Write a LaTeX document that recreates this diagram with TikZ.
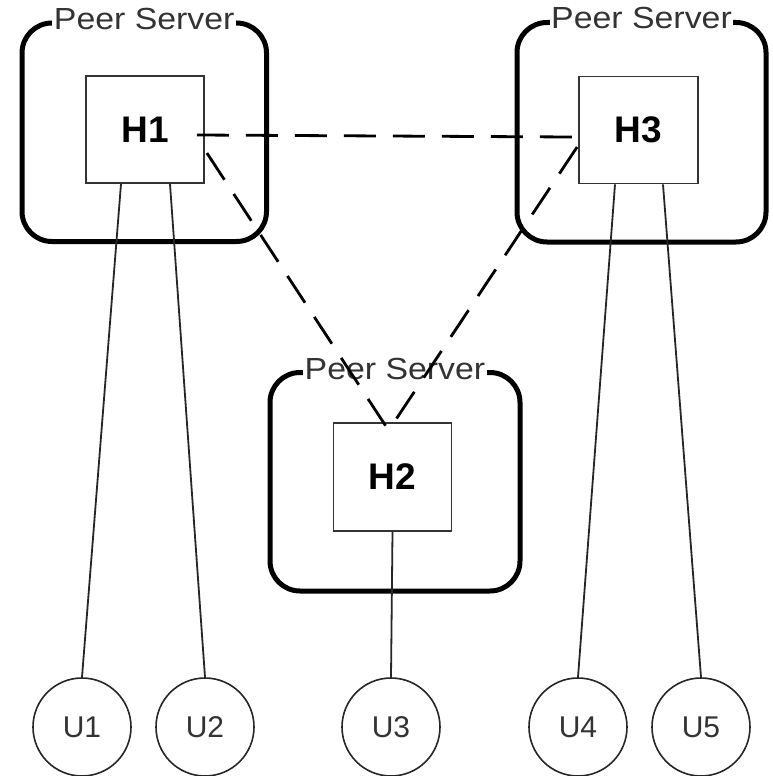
\documentclass[tikz,border=0pt]{standalone}
\usepackage{fontspec}
\setmainfont{Liberation Sans}
\begin{document}
\begin{tikzpicture}[x=1pt,y=-1pt,
  server/.style={draw=black,line width=5pt,rounded corners=30pt,
    inner sep=0pt},
  servertag/.style={fill=white,text=black!80,inner sep=1.5pt,anchor=base,
    font=\fontsize{30.5}{36}\selectfont},
  host/.style={draw=black!80,line width=1.8pt,fill=white,
    minimum width=118pt,minimum height=107pt,inner sep=0pt,
    font=\bfseries\fontsize{37}{42}\selectfont},
  user/.style={circle,draw=black!85,line width=1.6pt,minimum size=98pt,
    inner sep=0pt,text=black!80,font=\fontsize{30}{34}\selectfont},
  peerlink/.style={line width=2.8pt,dash pattern=on 32pt off 17pt},
  userlink/.style={line width=1.8pt,draw=black!85}]
\useasboundingbox (0,0) rectangle (773,776);

% peer server frames
\node[server,minimum width=244.5pt,minimum height=218.5pt] (ps1) at (144.25,132.25) {};
\node[server,minimum width=249pt,minimum height=219.5pt] (ps3) at (641.5,132.25) {};
\node[server,minimum width=250pt,minimum height=218.5pt] (ps2) at (395,481.75) {};
\newcommand{\peertag}{\scalebox{1.11}[1]{Peer Server}}
\node[servertag] (t1) at ([yshift=-9pt]ps1.north) {\peertag};
\node[servertag] (t3) at ([yshift=-9pt]ps3.north) {\peertag};
\node[servertag] (t2) at ([yshift=-9pt]ps2.north) {\peertag};

% hosts
\node[host] (h1) at (145,129.5) {H1};
\node[host,minimum width=119pt] (h3) at (638.5,130) {H3};
\node[host,minimum height=108pt] (h2) at (392.5,477) {H2};

% users
\node[user] (u1) at (82,727) {U1};
\node[user] (u2) at (205,727) {U2};
\node[user] (u3) at (391,727) {U3};
\node[user] (u4) at (578,727) {U4};
\node[user] (u5) at (701,727) {U5};

% links between peer servers
\draw[peerlink] ([shift={(-8,5.5)}]h1.east) -- ([shift={(-6,7)}]h3.west);
\draw[peerlink] ([shift={(2,23.5)}]h1.east) -- ([shift={(-6,5)}]h2.north);
\draw[peerlink] ([shift={(-1,17)}]h3.west) -- ([shift={(3,-2)}]h2.north);

% user attachments
\draw[userlink] ([xshift=-24pt]h1.south) -- (u1.north);
\draw[userlink] ([xshift=25pt]h1.south) -- (u2.north);
\draw[userlink] (h2.south) -- (u3.north);
\draw[userlink] ([xshift=-23.5pt]h3.south) -- (u4.north);
\draw[userlink] ([xshift=24.5pt]h3.south) -- (u5.north);
\end{tikzpicture}
\end{document}
